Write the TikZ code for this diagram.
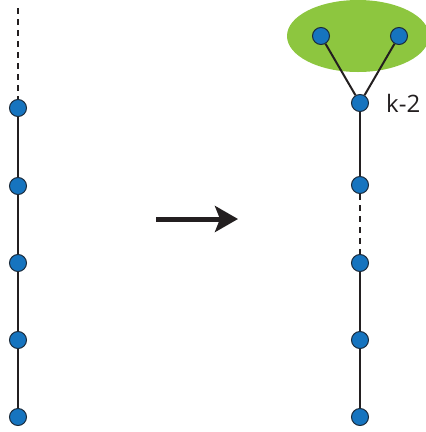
\documentclass[tikz,border=0pt]{standalone}
\usepackage{fontspec}
\setmainfont{Open Sans}
\usetikzlibrary{arrows.meta}
\definecolor{nodeblue}{HTML}{1674BF}
\definecolor{nodeedge}{HTML}{1B2B3B}
\definecolor{linedark}{HTML}{231F20}
\definecolor{leafgreen}{HTML}{8DC63F}
\begin{document}
\begin{tikzpicture}[x=1pt,y=-1pt,
  vtx/.style={circle,fill=nodeblue,draw=nodeedge,line width=1pt,minimum size=17pt,inner sep=0pt},
  edge/.style={draw=linedark,line width=2pt},
  dedge/.style={draw=linedark,line width=2pt,dash pattern=on 6pt off 5pt}]
\useasboundingbox (0,0) rectangle (426,432);
\begin{scope}
\clip (0,0) rectangle (426,432);
\fill[leafgreen] (358,36) ellipse [x radius=71, y radius=36];
\end{scope}
% left chain
\coordinate (ltop) at (18,8);
\node[vtx] (l1) at (18,108) {};
\node[vtx] (l2) at (18,186) {};
\node[vtx] (l3) at (18,263) {};
\node[vtx] (l4) at (18,340) {};
\node[vtx] (l5) at (18,417) {};
\draw[dedge] (ltop) -- (l1);
\draw[edge] (l1) -- (l2);
\draw[edge] (l2) -- (l3);
\draw[edge] (l3) -- (l4);
\draw[edge] (l4) -- (l5);
% right chain
\node[vtx] (ra) at (321,36) {};
\node[vtx] (rb) at (399,36) {};
\node[vtx] (r1) at (360,103) {};
\node[vtx] (r2) at (360,185) {};
\node[vtx] (r3) at (360,263) {};
\node[vtx] (r4) at (360,340) {};
\node[vtx] (r5) at (360,417) {};
\draw[edge] (ra) -- (r1);
\draw[edge] (rb) -- (r1);
\draw[edge] (r1) -- (r2);
\draw[dedge] (r2) -- (r3);
\draw[edge] (r3) -- (r4);
\draw[edge] (r4) -- (r5);
\node[anchor=west,inner sep=0pt,font=\fontsize{24}{28}\selectfont,text=linedark] (lab) at (386,103) {k-2};
% arrow
\coordinate (as) at (156,219);
\coordinate (ae) at (238,219);
\draw[linedark,line width=5pt,-{Triangle[length=23pt,width=26pt,inset=5pt]}] (as) -- (ae);
\end{tikzpicture}
\end{document}
